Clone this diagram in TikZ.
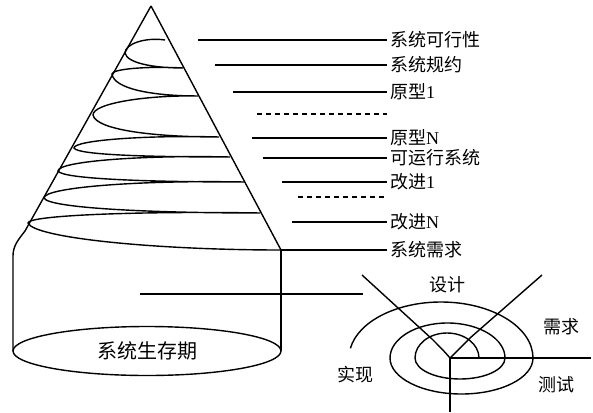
\documentclass[tikz,border=0pt]{standalone}
\usepackage{fontspec}
\setmainfont{Liberation Serif}
\newfontfamily\cjk{Noto Sans CJK SC}
\usetikzlibrary{positioning,calc,shapes.geometric}

\begin{document}
\begin{tikzpicture}[
    x=1pt, y=-1pt,
    % Style definitions
    rim/.style={line width=1.4pt},
    coil/.style={line width=1.4pt},
    tick/.style={line width=1.2pt},
    dashtick/.style={tick, dash pattern=on 5pt off 4pt},
    stagelbl/.style={anchor=west, inner sep=3pt, font=\fontsize{18}{18}\selectfont},
    phase/.style={inner sep=0pt, font=\fontsize{18}{18}\selectfont\cjk},
    baseell/.style={ellipse, draw, rim, minimum width=268pt, minimum height=49pt, inner sep=0pt, font=\fontsize{20}{20}\selectfont\cjk}
]
\useasboundingbox (0,0) rectangle (593,412);

% Cone and cylinder
\coordinate (apex) at (151,6);
\coordinate (bl) at (14,250);
\coordinate (br) at (281,250);
\coordinate (fl) at (13,351);
\coordinate (fr) at (281,351);
\draw[rim] (apex) -- (br);
\draw[rim] (apex) -- (25,231) .. controls (18,240) and (13,246) .. (13,256) -- (fl);
\draw[rim] (br) -- (fr);
\node[baseell] (base) at (147,351) {系统生存期};

% Helix turning points
\coordinate (r0) at (165,40);  \coordinate (l0) at (125,53);
\coordinate (r1) at (183,68);  \coordinate (l1) at (112,74);
\coordinate (r2) at (198,96);  \coordinate (l2) at (93,115);
\coordinate (r3) at (219,137); \coordinate (l3) at (74,148);
\coordinate (r4) at (230,157); \coordinate (l4) at (58,171);
\coordinate (r5) at (244,182); \coordinate (l5) at (44,198);
\coordinate (r6) at (260,213); \coordinate (l6) at (28,223);

% Helix
\draw[coil] (r0) .. controls +(-20,-3) and +(0,-9) .. (l0)
    .. controls +(2,10) and +(-30,0) .. (r1)
    .. controls +(-36,-2) and +(0,-5) .. (l1)
    .. controls +(2,15) and +(-45,0) .. (r2)
    .. controls +(-50,-1) and +(0,-12) .. (l2)
    .. controls +(3,15) and +(-65,0) .. (r3)
    .. controls +(-70,-2) and +(0,-8) .. (l3)
    .. controls +(3,7) and +(-80,0) .. (r4)
    .. controls +(-85,-2) and +(0,-10) .. (l4)
    .. controls +(4,8) and +(-95,0) .. (r5)
    .. controls +(-100,-2) and +(0,-11) .. (l5)
    .. controls +(4,10) and +(-110,0) .. (r6)
    .. controls +(-115,-2) and +(0,-8) .. (l6)
    .. controls +(6,15) and +(-125,0) .. (br);

% Stage labels
\node[stagelbl] (feas) at (387,40) {\cjk 系统可行性};
\node[stagelbl] (spec) at (387,65) {\cjk 系统规约};
\node[stagelbl] (proto1) at (387,92) {{\cjk 原型}1};
\coordinate (gap1) at (387,114);
\node[stagelbl] (protoN) at (387,138) {{\cjk 原型}N};
\node[stagelbl] (runsys) at (387,158) {\cjk 可运行系统};
\node[stagelbl] (impr1) at (387,182) {{\cjk 改进}1};
\coordinate (gap2) at (387,197);
\node[stagelbl] (imprN) at (387,222) {{\cjk 改进}N};
\node[stagelbl] (sysreq) at (387,250) {\cjk 系统需求};

\coordinate (t1) at (198,40);
\coordinate (t2) at (215,65);
\coordinate (t3) at (233,92);
\coordinate (t4) at (257,114);
\coordinate (t5) at (252,138);
\coordinate (t6) at (263,158);
\coordinate (t7) at (282,182);
\coordinate (t8) at (298,197);
\coordinate (t9) at (292,222);
\coordinate (life) at (140,294);
\coordinate (lifeend) at (363,294);

% Leader lines
\draw[tick] (t1) -- (feas.west);
\draw[tick] (t2) -- (spec.west);
\draw[tick] (t3) -- (proto1.west);
\draw[dashtick] (t4) -- (gap1);
\draw[tick] (t5) -- (protoN.west);
\draw[tick] (t6) -- (runsys.west);
\draw[tick] (t7) -- (impr1.west);
\draw[dashtick] (t8) -- (gap2);
\draw[tick] (t9) -- (imprN.west);
\draw[tick] (br) -- (sysreq.west);
\draw[tick] (life) -- (lifeend);

% Small spiral model
\coordinate (hub) at (450,358);
\coordinate (east) at (591,358);
\coordinate (south) at (450,412);
\coordinate (nw) at (362,275);
\coordinate (ne) at (542,275);
\coordinate (start) at (479,358);
\draw[coil] (hub) -- (east);
\draw[coil] (hub) -- (south);
\draw[coil] (nw) -- (432,339) .. controls (440,347) and (445,352) .. (hub);
\draw[coil] (ne) -- (470,338) .. controls (462,346) and (456,352) .. (hub);
\draw[coil] (start)
    arc[start angle=0, end angle=-180, x radius=32, y radius=25]
    arc[start angle=180, end angle=0, x radius=45, y radius=21]
    arc[start angle=0, end angle=-180, x radius=57.5, y radius=35]
    arc[start angle=180, end angle=0, x radius=71.5, y radius=36]
    arc[start angle=0, end angle=-170, x radius=92, y radius=56];

\node[phase] (design) at (447,285) {设计};
\node[phase] (need) at (561,327) {需求};
\node[phase] (build) at (355,375) {实现};
\node[phase] (test) at (556,385) {测试};
\end{tikzpicture}
\end{document}
